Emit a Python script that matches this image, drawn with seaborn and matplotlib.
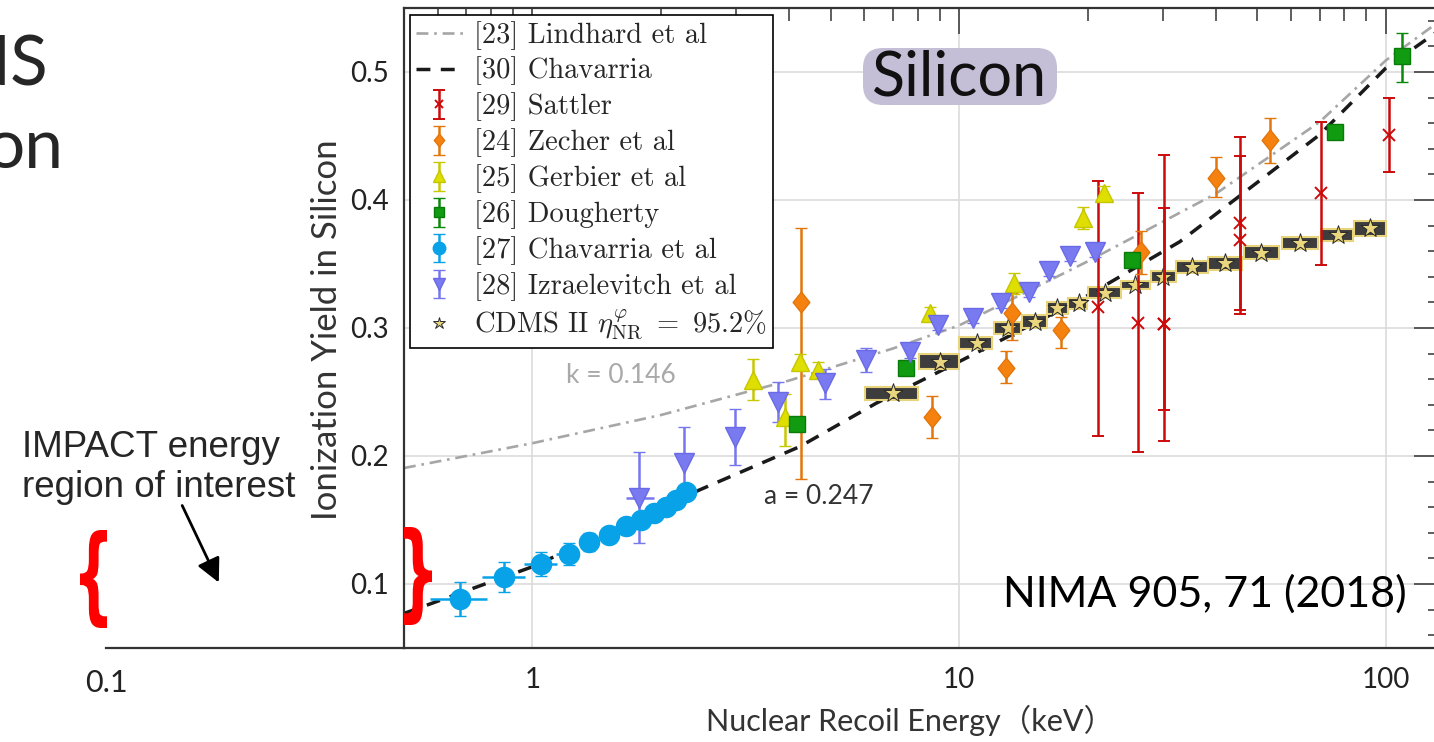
import numpy as np
import matplotlib
matplotlib.use("Agg")
import matplotlib.pyplot as plt
import seaborn as sns
from matplotlib.ticker import MultipleLocator, FixedLocator, NullFormatter
from matplotlib.lines import Line2D
from matplotlib.patches import FancyBboxPatch, FancyArrowPatch, PathPatch
from matplotlib.textpath import TextPath
from matplotlib.font_manager import FontProperties
from matplotlib.transforms import Affine2D, IdentityTransform

#%% data
# model curves
lind_E = [0.5, 1.0, 2.0, 4.0, 7.0, 10.0, 20.0, 40.0, 70.0, 100.0, 134.0]
lind_Y = [0.1906, 0.210, 0.232, 0.259, 0.284, 0.302, 0.352, 0.405, 0.461, 0.509, 0.540]

chav_E = [0.5, 1.0, 2.46, 4.23, 6.39, 10.0, 19.5, 32.9, 70.0, 100.0, 134.0]
chav_Y = [0.077, 0.1135, 0.1734, 0.2073, 0.2412, 0.2737, 0.3232, 0.3674, 0.451, 0.503, 0.533]

# [29] Sattler
sat_E = [21.2, 26.2, 30.2, 30.2, 45.5, 45.5, 70.4, 101.8]
sat_Y = [0.3167, 0.3037, 0.3031, 0.3031, 0.382, 0.369, 0.4057, 0.4508]
sat_top = [0.4148, 0.4052, 0.4352, 0.3935, 0.449, 0.434, 0.4612, 0.4794]
sat_bot = [0.2159, 0.2034, 0.212, 0.236, 0.311, 0.314, 0.3492, 0.4221]

# [24] Zecher et al
zec_E = [4.25, 8.64, 12.9, 13.3, 17.3, 26.7, 39.9, 53.5]
zec_Y = [0.3206, 0.2307, 0.2685, 0.3115, 0.2984, 0.3596, 0.4169, 0.4469]
zec_up = [0.0578, 0.0162, 0.0135, 0.0156, 0.0104, 0.0162, 0.0169, 0.0169]
zec_dn = [0.1386, 0.0169, 0.0115, 0.0209, 0.0143, 0.0174, 0.0148, 0.0178]

# [25] Gerbier et al
ger_E = [3.29, 3.90, 4.23, 4.67, 8.53, 13.42, 19.5, 21.8]
ger_Y = [0.2594, 0.2307, 0.2737, 0.2672, 0.3115, 0.3349, 0.3857, 0.4052]
ger_up = [0.016, 0.018, 0.006, 0.006, 0.005, 0.008, 0.0085, 0.006]
ger_dn = [0.016, 0.023, 0.006, 0.006, 0.005, 0.008, 0.0085, 0.006]

# [26] Dougherty
dou_E = [4.17, 7.49, 25.4, 76.2, 109.4]
dou_Y = [0.2248, 0.2685, 0.3531, 0.4534, 0.5125]
dou_up = [0.0, 0.0, 0.005, 0.0, 0.0182]
dou_dn = [0.0, 0.0, 0.005, 0.0, 0.0201]

# [27] Chavarria et al
cha_E = [0.677, 0.856, 1.048, 1.216, 1.355, 1.51, 1.658, 1.798, 1.925, 2.058, 2.173, 2.293]
cha_Y = [0.0883, 0.1052, 0.1154, 0.1234, 0.1328, 0.1385, 0.1453, 0.150, 0.1557, 0.1604, 0.1656, 0.1721]
cha_err = [0.013, 0.0117, 0.0094, 0.0087, 0.007, 0.005, 0.005, 0.005, 0.005, 0.005, 0.005, 0.005]
cha_xlo = [0.102, 0.094, 0.094, 0.079, 0, 0, 0, 0, 0, 0, 0, 0]
cha_xhi = [0.105, 0.107, 0.092, 0.073, 0, 0, 0, 0, 0, 0, 0, 0]

# [28] Izraelevitch et al
izr_E = [1.78, 2.26, 2.98, 3.76, 4.84, 6.06, 7.66, 8.92, 10.78, 12.56, 14.55, 16.24, 18.23, 20.78]
izr_Y = [0.167, 0.1943, 0.2151, 0.2424, 0.2568, 0.275, 0.2815, 0.3023, 0.3076, 0.3193,
         0.3284, 0.3448, 0.3563, 0.3596]
izr_up = [0.036, 0.0281, 0.0216, 0.0152, 0.0112, 0.009, 0.005, 0.004, 0.004, 0.004, 0.004, 0.004, 0.004, 0.004]
izr_dn = [0.0352, 0.0273, 0.0221, 0.0156, 0.0125, 0.009, 0.005, 0.004, 0.004, 0.004, 0.004, 0.004, 0.004, 0.004]
izr_xlo = [0.12, 0, 0, 0, 0, 0, 0, 0, 0, 0, 0, 0, 0, 0]
izr_xhi = [0.15, 0, 0, 0, 0, 0, 0, 0, 0, 0, 0, 0, 0, 0]

# CDMS II bins
cdms_E = [6.99, 9.0, 11.03, 13.0, 15.03, 17.0, 19.05, 22.0, 25.9, 30.0, 35.2, 42.0, 51.1, 62.9, 77.3, 91.8]
cdms_Y = [0.249, 0.2737, 0.288, 0.2998, 0.305, 0.3154, 0.3193, 0.3276, 0.3336, 0.34, 0.3479,
          0.3505, 0.3588, 0.3662, 0.3727, 0.3779]
cdms_lo = [6.02, 8.05, 10.02, 12.05, 14.05, 16.04, 18.0, 20.0, 24.0, 28.1, 32.3, 38.3, 46.5, 57.1, 70.4, 84.2]
cdms_hi = [8.02, 9.99, 11.97, 14.0, 16.04, 17.97, 19.95, 23.9, 28.0, 32.2, 38.3, 46.1, 56.3, 69.4, 83.9, 100.2]
cdms_h = [0.005, 0.0059, 0.0046, 0.0048, 0.0052, 0.0046, 0.0043, 0.0041, 0.0033, 0.0043, 0.0048,
          0.0051, 0.0049, 0.0046, 0.005, 0.0059]

x_ticks = [1, 10, 100]
x_ticklabels = ["1", "10", "100"]
y_ticks = [0.1, 0.2, 0.3, 0.4, 0.5]
y_ticklabels = ["0.1", "0.2", "0.3", "0.4", "0.5"]

legend_labels = ["[23] Lindhard et al", "[30] Chavarria", "[29] Sattler", "[24] Zecher et al",
                 "[25] Gerbier et al", "[26] Dougherty", "[27] Chavarria et al",
                 "[28] Izraelevitch et al", r"CDMS II $\eta^{\varphi}_{\rm NR}\ =\ 95.2\%$"]

#%% style
sns.set_style("white")
plt.rcParams["font.family"] = ["Lato", "DejaVu Sans"]
plt.rcParams["mathtext.fontset"] = "cm"

W, H = 1434, 742
fig = plt.figure(figsize=(W / 100, H / 100), dpi=100)


def fx(x):
    return x / W


def fy(y):
    return 1 - y / H


ax = fig.add_axes([fx(404), fy(648), fx(1440) - fx(404), fy(8) - fy(648)])
ax.set_xscale("log")

# model curves
sns.lineplot(x=lind_E, y=lind_Y, ax=ax, color="#a6a6a6", lw=1.9,
             linestyle=(0, (4.5, 2.2, 1.0, 2.2)), zorder=2, legend=False)
sns.lineplot(x=chav_E, y=chav_Y, ax=ax, color="#1a1a1a", lw=2.5,
             linestyle=(0, (4, 3)), zorder=2, legend=False)

# CDMS boxes + stars
cdms_w = np.array(cdms_hi) - np.array(cdms_lo)
ax.bar(cdms_lo, 2 * np.array(cdms_h), width=cdms_w, bottom=np.array(cdms_Y) - np.array(cdms_h),
       align="edge", color="#3d3d3d", edgecolor="#e8d47a", linewidth=1.5, zorder=3)
sns.scatterplot(x=cdms_E, y=cdms_Y, marker="*", s=200, color="#e9d67f", edgecolor="#2a2a2a",
                linewidth=0.7, zorder=3.5, ax=ax, legend=False)


def errs(E, Y, dn, up, color, z=5, **kw):
    return ax.errorbar(E, Y, yerr=[dn, up], linestyle="none", ecolor=color, elinewidth=1.8,
                       capsize=4.5, capthick=1.8, zorder=z, **kw)


diamond = [(0, 1), (0.8, 0), (0, -1), (-0.8, 0), (0, 1)]

sat = errs(sat_E, sat_Y, np.subtract(sat_Y, sat_bot), np.subtract(sat_top, sat_Y), "#cc0a0a",
           z=4.5, marker="x", ms=8.5, mec="#cc0a0a", mew=1.4)
zec = errs(zec_E, zec_Y, zec_dn, zec_up, "#e2760c", marker=diamond, ms=15,
           mfc="#f5820f", mec="#e2760c", mew=1)
ger = errs(ger_E, ger_Y, ger_dn, ger_up, "#c8c800", marker="^", ms=13.5,
           mfc="#dede00", mec="#c6c600", mew=1)
dou = errs(dou_E, dou_Y, dou_dn, dou_up, "#0a8a0a", marker="s", ms=11,
           mfc="#109b10", mec="#0a7a0a", mew=1)
ax.errorbar(cha_E, cha_Y, xerr=[cha_xlo, cha_xhi], fmt="none", ecolor="#08a2e8",
            elinewidth=1.8, capsize=0, zorder=4.9)
cha = errs(cha_E, cha_Y, cha_err, cha_err, "#08a2e8", marker="o", ms=14.5,
           mfc="#08a2e8", mec="#08a2e8", mew=1)
ax.errorbar(izr_E, izr_Y, xerr=[izr_xlo, izr_xhi], fmt="none", ecolor="#7676ee",
            elinewidth=1.8, capsize=0, zorder=4.9)
izr = errs(izr_E, izr_Y, izr_dn, izr_up, "#7676ee", marker="v", ms=14,
           mfc="#7a7af0", mec="#6a6ae6", mew=1)

#%% axes cosmetics
ax.set_xlim(0.5, 134)
ax.set_ylim(0.05, 0.55)
ax.set_xticks(x_ticks)
ax.set_xticklabels(x_ticklabels)
ax.xaxis.set_minor_formatter(NullFormatter())
ax.set_yticks(y_ticks)
ax.set_yticklabels(y_ticklabels)
ax.yaxis.set_minor_locator(MultipleLocator(0.02))
ax.grid(which="major", color="#dcdcdc", lw=1.2)
ax.set_axisbelow(True)
for s in ax.spines.values():
    s.set_color("#333333")
    s.set_linewidth(1.6)
ax.tick_params(which="major", direction="in", length=19, width=1.1, color="#333333",
               top=True, right=True, labelsize=20, labelcolor="#222222")
ax.tick_params(which="minor", direction="in", length=9, width=1.1, color="#333333",
               top=True, right=True)
ax.tick_params(axis="x", which="major", pad=14)
ax.tick_params(axis="y", which="major", pad=11)

ax.set_ylabel("Ionization Yield in Silicon", fontsize=25, color="#333333", va="center")
ax.yaxis.set_label_coords((327 - 404) / 1036, (648 - 330) / 640)
ax.set_xlabel("Nuclear Recoil Energy（keV）", fontsize=22, color="#333333", va="center",
              family=["Lato", "Noto Sans CJK SC"])
ax.xaxis.set_label_coords((910 - 404) / 1036, -(720 - 648) / 640)

# legend
lind_h = Line2D([], [], color="#a6a6a6", lw=1.9, linestyle=(0, (4.5, 2.2, 1.0, 2.2)))
chav_h = Line2D([], [], color="#1a1a1a", lw=2.5, linestyle=(0, (4, 3)))
cdms_h_ = Line2D([], [], marker="*", ls="none", ms=15, mfc="#e9d67f", mec="#2a2a2a", mew=0.7)
leg = ax.legend([lind_h, chav_h, sat, zec, ger, dou, cha, izr, cdms_h_], legend_labels,
                loc="upper left", bbox_to_anchor=(fx(410), fy(15)), bbox_transform=fig.transFigure,
                prop=FontProperties(family="cmr10", size=20.5), frameon=True, fancybox=False,
                edgecolor="black", framealpha=1, borderaxespad=0, borderpad=0.2,
                handlelength=1.65, handletextpad=0.4, labelspacing=0.25, markerscale=0.62)
leg.get_frame().set_linewidth(1.2)
leg.set_zorder(20)

# extension of the energy axis down to 0.1 keV
ax2 = fig.add_axes([fx(106.5), fy(648), fx(404) - fx(106.5), fy(600) - fy(648)])
ax2.set_xscale("log")
ax2.set_xlim(0.1, 0.5)
ax2.patch.set_alpha(0)
for k in ["top", "right", "left"]:
    ax2.spines[k].set_visible(False)
ax2.spines["bottom"].set_color("#333333")
ax2.spines["bottom"].set_linewidth(1.6)
ax2.set_yticks([])
ax2.set_xticks([0.1])
ax2.set_xticklabels(["0.1"])
ax2.xaxis.set_minor_locator(FixedLocator([0.2, 0.3, 0.4]))
ax2.xaxis.set_minor_formatter(NullFormatter())
ax2.tick_params(which="major", direction="in", length=13, width=1.1, color="#333333",
                labelsize=22, labelcolor="#222222", pad=15)
ax2.tick_params(which="minor", direction="in", length=9.5, width=1.1, color="#333333")

#%% annotations
fig.text(fx(621), fy(376), "k = 0.146", color="#a9a9a9", fontsize=19, ha="center", va="center")
fig.text(fx(819), fy(497), "a = 0.247", color="#333333", fontsize=19, ha="center", va="center")

fig.add_artist(FancyBboxPatch((863, H - 105), 194, 57, boxstyle="round,pad=0,rounding_size=20",
                              fc="#c4bed6", ec="none", transform=IdentityTransform(), zorder=2))
fig.text(fx(960), fy(95), "Silicon", fontsize=44, color="#111111", ha="center", va="baseline",
         zorder=3)
fig.text(fx(1003), fy(607), "NIMA 905, 71 (2018)", fontsize=31, color="black", ha="left",
         va="baseline", zorder=3)

fig.text(fx(22), fy(457), "IMPACT energy", family="Liberation Sans", fontsize=26.5, va="baseline")
fig.text(fx(22), fy(497), "region of interest", family="Liberation Sans", fontsize=26.5,
         va="baseline")
# slide title fragments that are cut by the picture's left edge
fig.text(fx(48), fy(85), "NS", fontsize=50, ha="right", va="baseline")
fig.text(fx(63), fy(168), "on", fontsize=50, ha="right", va="baseline")

fig.add_artist(FancyArrowPatch((fx(181), fy(503)), (fx(220), fy(585)), transform=fig.transFigure,
                               arrowstyle="-|>,head_length=0.8,head_width=0.4", mutation_scale=18,
                               lw=2, color="black"))


def brace(ch, x0, y0, x1, y1):
    tp = TextPath((0, 0), ch, size=100, prop=FontProperties(family="DejaVu Sans", weight="bold"))
    bb = tp.get_extents()
    tr = Affine2D().translate(-bb.x0, -bb.y0).scale((x1 - x0) / bb.width, (y1 - y0) / bb.height)
    tr = tr.translate(x0, H - y1)
    fig.add_artist(PathPatch(tp, fc="#ff0000", ec="none", transform=tr, zorder=25))


brace("{", 80, 530, 107, 628)
brace("}", 404, 527, 432, 625)

fig.savefig("out.png", dpi=100)
